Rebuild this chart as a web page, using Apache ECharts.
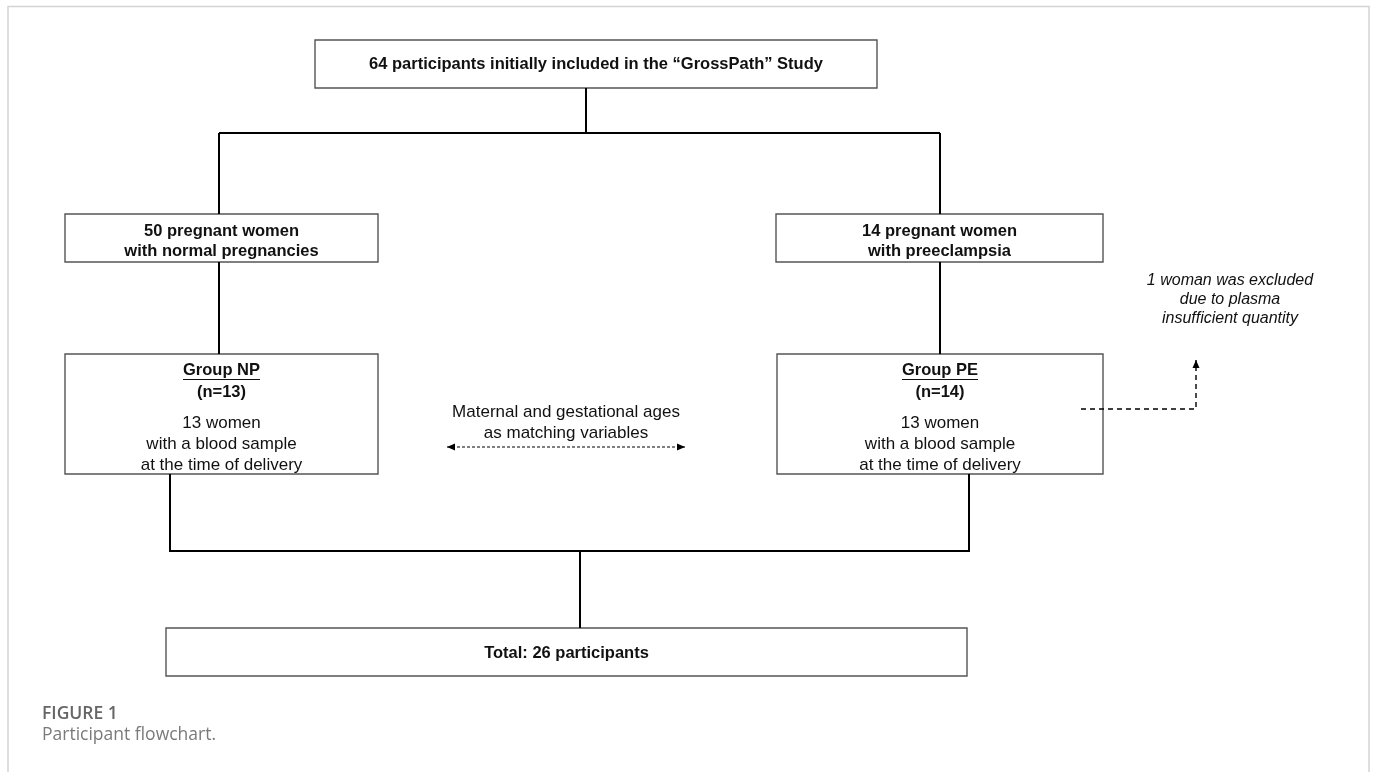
<!DOCTYPE html>
<html>
<head>
<meta charset="utf-8">
<script src="https://cdn.jsdelivr.net/npm/echarts@6/dist/echarts.min.js"></script>
<style>
html,body{margin:0;padding:0;background:#fff;}
#chart{width:1375px;height:772px;}
</style>
</head>
<body>
<div id="chart"></div>
<script>
// ---------- content ----------
const boxLabels = [
  ['64 participants initially included in the \u201cGrossPath\u201d Study'],
  ['50 pregnant women', 'with normal pregnancies'],
  ['14 pregnant women', 'with preeclampsia'],
  ['Group NP', '(n=13)', '13 women', 'with a blood sample', 'at the time of delivery'],
  ['Group PE', '(n=14)', '13 women', 'with a blood sample', 'at the time of delivery'],
  ['Total: 26 participants']
];
const matchingNote = ['Maternal and gestational ages', 'as matching variables'];
const exclusionNote = ['1 woman was excluded', 'due to plasma', 'insufficient quantity'];
const captionTitle = 'FIGURE 1';
const captionText = 'Participant flowchart.';

// ---------- layout (page coordinates) ----------
const boxRects = [
  [315, 40, 877, 88],
  [65, 214, 378, 262],
  [776, 214, 1103, 262],
  [65, 354, 378, 474],
  [777, 354, 1103, 474],
  [166, 628, 967, 676]
];
const boxRowY = [
  [64],
  [231, 251],
  [231, 251],
  [370, 392, 423, 444, 465],
  [370, 392, 423, 444, 465],
  [653]
];
const boxRowKind = [
  ['b'],
  ['b', 'b'],
  ['b', 'b'],
  ['bu', 'b', 'r', 'r', 'r'],
  ['bu', 'b', 'r', 'r', 'r'],
  ['b']
];
const matchingPos = [566, [412, 433]];
const exclusionPos = [1230, [281, 300, 319]];
const connectorPaths = [
  [[586, 88], [586, 133]],
  [[219, 133], [940, 133]],
  [[219, 133], [219, 214]],
  [[940, 133], [940, 214]],
  [[219, 262], [219, 354]],
  [[940, 262], [940, 354]],
  [[170, 474], [170, 551], [969, 551], [969, 474]],
  [[580, 551], [580, 628]]
];
const dashedPaths = [
  { pts: [[447, 447], [685, 447]], start: true, end: true, dash: [3, 2], w: 1.1 },
  { pts: [[1081, 409], [1196, 409], [1196, 360]], start: false, end: true, dash: [5, 4], w: 1.4 }
];

// ---------- styles ----------
const FONT = '"Liberation Sans", Arial, Helvetica, sans-serif';
const KIND = {
  b:  { fontSize: 16.5, fontWeight: 'bold', fontStyle: 'normal', underline: false },
  bu: { fontSize: 16.5, fontWeight: 'bold', fontStyle: 'normal', underline: true },
  r:  { fontSize: 17, fontWeight: 'normal', fontStyle: 'normal', underline: false },
  i:  { fontSize: 16, fontWeight: 'normal', fontStyle: 'italic', underline: false }
};

// build text rows
const rows = [];
boxLabels.forEach((lines, b) => {
  const cx = (boxRects[b][0] + boxRects[b][2]) / 2;
  lines.forEach((t, i) => rows.push({ x: cx, y: boxRowY[b][i], text: t, kind: boxRowKind[b][i] }));
});
matchingNote.forEach((t, i) => rows.push({ x: matchingPos[0], y: matchingPos[1][i], text: t, kind: 'r' }));
exclusionNote.forEach((t, i) => rows.push({ x: exclusionPos[0], y: exclusionPos[1][i], text: t, kind: 'i' }));

const mctx = document.createElement('canvas').getContext('2d');
function measure(text, k) {
  mctx.font = k.fontStyle + ' ' + k.fontWeight + ' ' + k.fontSize + 'px ' + FONT;
  return mctx.measureText(text).width;
}

function arrowHead(tip, from, len, half) {
  const dx = tip[0] - from[0], dy = tip[1] - from[1];
  const d = Math.sqrt(dx * dx + dy * dy) || 1;
  const ux = dx / d, uy = dy / d;
  const bx = tip[0] - ux * len, by = tip[1] - uy * len;
  return [[tip[0], tip[1]], [bx - uy * half, by + ux * half], [bx + uy * half, by - ux * half]];
}

const chart = echarts.init(document.getElementById('chart'), null, { renderer: 'canvas' });
chart.setOption({
  animation: false,
  backgroundColor: '#fff',
  title: {
    text: captionTitle,
    subtext: captionText,
    left: 37,
    top: 700,
    itemGap: 3,
    textStyle: { fontFamily: '"Open Sans", sans-serif', fontSize: 17.5, fontWeight: 600, color: '#666' },
    subtextStyle: { fontFamily: '"Open Sans", sans-serif', fontSize: 17.5, fontWeight: 'normal', color: '#7a7a7a' }
  },
  graphic: [{
    type: 'polyline',
    shape: { points: [[8, 772], [8, 6.5], [1369, 6.5], [1369, 772]] },
    style: { stroke: '#d4d4d4', lineWidth: 1.5, fill: null },
    silent: true
  }],
  grid: { left: 0, right: 0, top: 0, bottom: 0 },
  xAxis: { type: 'value', min: 0, max: 1375, show: false },
  yAxis: { type: 'value', min: 0, max: 772, inverse: true, show: false },
  series: [
    {
      type: 'custom',
      name: 'boxes',
      silent: true,
      data: boxRects.map(r => [r[0], r[1], r[2], r[3]]),
      encode: { x: [0, 2], y: [1, 3] },
      renderItem: function (params, api) {
        const p0 = api.coord([api.value(0), api.value(1)]);
        const p1 = api.coord([api.value(2), api.value(3)]);
        return {
          type: 'rect',
          shape: { x: p0[0], y: p0[1], width: p1[0] - p0[0], height: p1[1] - p0[1] },
          style: { fill: '#fff', stroke: '#555', lineWidth: 1.4 }
        };
      },
      z: 2
    },
    {
      type: 'custom',
      name: 'connectors',
      silent: true,
      data: connectorPaths.map((p, i) => [p[0][0], p[0][1], i]),
      renderItem: function (params, api) {
        const path = connectorPaths[api.value(2)];
        return {
          type: 'polyline',
          shape: { points: path.map(pt => api.coord(pt)) },
          style: { stroke: '#000', lineWidth: 2, fill: null }
        };
      },
      z: 3
    },
    {
      type: 'custom',
      name: 'dashed',
      silent: true,
      data: dashedPaths.map((p, i) => [p.pts[0][0], p.pts[0][1], i]),
      renderItem: function (params, api) {
        const d = dashedPaths[api.value(2)];
        const pts = d.pts.map(pt => api.coord(pt));
        const children = [{
          type: 'polyline',
          shape: { points: pts },
          style: { stroke: '#000', lineWidth: d.w, lineDash: d.dash, fill: null }
        }];
        if (d.start) children.push({ type: 'polygon', shape: { points: arrowHead(pts[0], pts[1], 8, 3.5) }, style: { fill: '#000' } });
        if (d.end) children.push({ type: 'polygon', shape: { points: arrowHead(pts[pts.length - 1], pts[pts.length - 2], 8, 3.5) }, style: { fill: '#000' } });
        return { type: 'group', children: children };
      },
      z: 4
    },
    {
      type: 'custom',
      name: 'texts',
      silent: true,
      data: rows.map((r, i) => [r.x, r.y, i]),
      renderItem: function (params, api) {
        const r = rows[api.value(2)];
        const k = KIND[r.kind];
        const p = api.coord([api.value(0), api.value(1)]);
        const children = [{
          type: 'text',
          x: p[0], y: p[1],
          style: {
            text: r.text,
            fontFamily: FONT,
            fontSize: k.fontSize,
            fontWeight: k.fontWeight,
            fontStyle: k.fontStyle,
            fill: '#111',
            align: 'center',
            verticalAlign: 'middle'
          }
        }];
        if (k.underline) {
          const w = measure(r.text, k);
          children.push({
            type: 'line',
            shape: { x1: p[0] - w / 2, y1: p[1] + 9.5, x2: p[0] + w / 2, y2: p[1] + 9.5 },
            style: { stroke: '#111', lineWidth: 1.2 }
          });
        }
        return { type: 'group', children: children };
      },
      z: 5
    }
  ]
});
</script>
</body>
</html>
